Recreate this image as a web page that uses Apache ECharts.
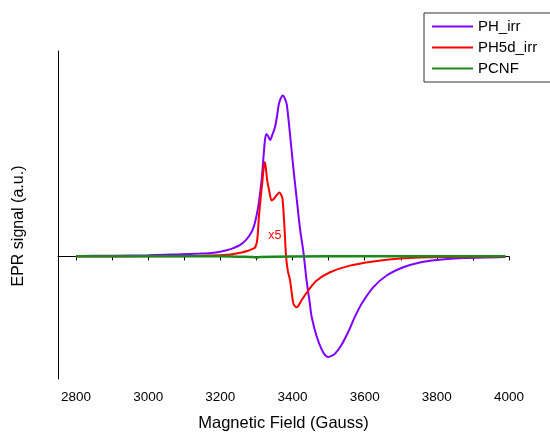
<!DOCTYPE html>
<html>
<head>
<meta charset="utf-8">
<script src="https://cdn.jsdelivr.net/npm/echarts@6/dist/echarts.min.js"></script>
<style>html,body{margin:0;padding:0;background:#fff}#c{width:550px;height:437px}</style>
</head>
<body>
<div id="c"></div>
<script>
// Data (field in Gauss, signal in arbitrary units)
const xTickValues = [2800,2900,3000,3100,3200,3300,3400,3500,3600,3700,3800,3900,4000];
const xLabelValues = [2800,3000,3200,3400,3600,3800,4000];

const phIrrField  = [2800,2900,3000,3088,3144,3175,3199,3220,3236,3254,3270,3282,3291,3298,3305,3310,3315,3320,3324,3328,3333,3338,3344,3351,3357,3362,3368,3373,3378,3384,3393,3402,3412,3421,3430,3439,3448,3453,3467,3481,3490,3499,3508,3518,3536,3555,3573,3592,3624,3661,3707,3753,3800,3873,3990];
const phIrrSignal = [0.003,0.005,0.008,0.013,0.018,0.022,0.029,0.04,0.052,0.07,0.10,0.135,0.175,0.23,0.31,0.39,0.49,0.63,0.73,0.761,0.745,0.724,0.755,0.80,0.87,0.945,0.985,1.0,0.985,0.945,0.76,0.556,0.35,0.168,0.03,-0.149,-0.292,-0.374,-0.497,-0.579,-0.612,-0.624,-0.618,-0.603,-0.548,-0.466,-0.374,-0.292,-0.19,-0.118,-0.067,-0.037,-0.022,-0.01,-0.003];

const ph5dField  = [2800,3000,3100,3218,3259,3277,3287,3296,3302,3307,3312,3316,3320,3323,3326,3330,3335,3342,3347,3353,3358,3363,3368,3372,3377,3382,3387,3393,3402,3407,3412,3418,3425,3444,3467,3504,3559,3624,3698,3753,3850,3990];
const ph5dSignal = [0.0,0.001,0.002,0.01,0.025,0.035,0.045,0.055,0.1,0.25,0.37,0.454,0.55,0.587,0.55,0.47,0.413,0.348,0.355,0.372,0.385,0.397,0.385,0.362,0.209,0.004,-0.09,-0.147,-0.29,-0.31,-0.316,-0.3,-0.272,-0.21,-0.149,-0.098,-0.057,-0.031,-0.012,-0.006,-0.003,0.0];

const pcnfField  = [2800,3000,3200,3260,3290,3301,3310,3400,3600,3800,3990];
const pcnfSignal = [0.002,0.002,0.001,-0.002,-0.004,-0.007,-0.003,0.0,0.001,0.002,0.002];

const seriesNames = ['PH_irr','PH5d_irr','PCNF'];
const scaleNote = 'x5';
const scaleNotePos = [3351, 0.129];

function pairs(xs, ys){ return xs.map((x,i)=>[x, ys[i]]); }

const font = "'Liberation Sans', Arial, sans-serif";
const chart = echarts.init(document.getElementById('c'));
chart.setOption({
  animation: false,
  backgroundColor: '#fff',
  grid: {left: 58, right: 41, top: 51, bottom: 54},
  legend: {
    orient: 'vertical', left: 424, top: 13,
    padding: [6, 40, 6, 7],
    itemWidth: 41, itemHeight: 14, itemGap: 6,
    borderColor: '#333', borderWidth: 1,
    itemStyle: {opacity: 0},
    textStyle: {fontFamily: font, fontSize: 15, color: '#000'},
    data: seriesNames
  },
  xAxis: {
    type: 'value', min: 2750, max: 4000,
    name: 'Magnetic Field (Gauss)', nameLocation: 'middle', nameGap: 36,
    nameTextStyle: {fontFamily: font, fontSize: 16.5, color: '#000'},
    axisLine: {lineStyle: {color: '#000', width: 1}},
    axisTick: {show: true, length: 4, customValues: xTickValues, lineStyle: {color: '#000'}},
    axisLabel: {customValues: xLabelValues, margin: 11, fontFamily: font, fontSize: 13.5, color: '#000',
      formatter: v => String(v)},
    splitLine: {show: false}
  },
  yAxis: {
    type: 'value', min: -0.761, max: 1.276,
    name: 'EPR signal (a.u.)', nameLocation: 'middle', nameGap: 31,
    nameTextStyle: {fontFamily: font, fontSize: 16, color: '#000', padding: [0, 22, 0, 0]},
    axisLine: {show: true, lineStyle: {color: '#000', width: 1}},
    axisTick: {show: false},
    axisLabel: {show: false},
    splitLine: {show: false}
  },
  series: [
    {name: seriesNames[0], type: 'line', data: pairs(phIrrField, phIrrSignal), symbol: 'none', smooth: 0.3,
     lineStyle: {color: '#8000ff', width: 2}, itemStyle: {color: '#8000ff'}},
    {name: seriesNames[1], type: 'line', data: pairs(ph5dField, ph5dSignal), symbol: 'none', smooth: 0.3,
     lineStyle: {color: '#ff0000', width: 2}, itemStyle: {color: '#ff0000'},
     markPoint: {symbol: 'circle', symbolSize: 0, silent: true,
       data: [{coord: scaleNotePos, value: scaleNote}],
       label: {show: true, position: 'inside', formatter: scaleNote, color: '#ff0000', fontFamily: font, fontSize: 12.5}}},
    {name: seriesNames[2], type: 'line', data: pairs(pcnfField, pcnfSignal), symbol: 'none', smooth: 0.3,
     lineStyle: {color: '#1a8a1a', width: 2.5}, itemStyle: {color: '#1a8a1a'}}
  ]
});
</script>
</body>
</html>
